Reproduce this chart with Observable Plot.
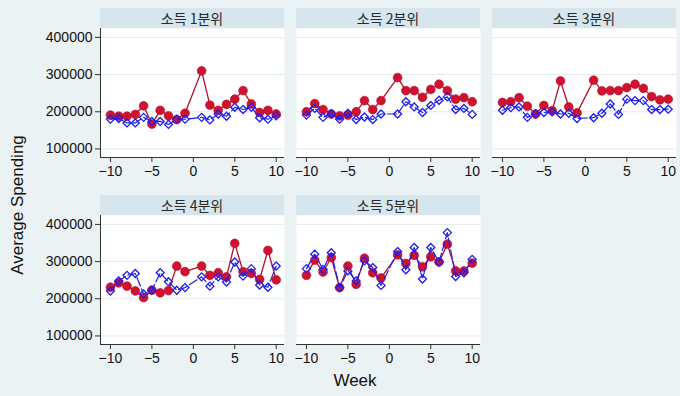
<!DOCTYPE html>
<html>
<head>
<meta charset="utf-8">
<script src="https://cdn.jsdelivr.net/npm/d3@7"></script>
<script src="https://cdn.jsdelivr.net/npm/@observablehq/plot@0.6"></script>
<style>
  html, body { margin: 0; padding: 0; background: #eaf2f4; }
  #chart { position: relative; width: 680px; height: 396px; background: #eaf2f4; overflow: hidden;
           font-family: "Liberation Sans", Arial, "Noto Sans CJK KR", sans-serif; }
  .hdr { position: absolute; height: 20px; background: #d7e6ec; color: #2a2a2a;
         font-family: "Noto Sans CJK KR", "Liberation Sans", sans-serif; font-size: 14px;
         line-height: 20px; text-align: center; }
  .plotbox { position: absolute; }
  .ylab { position: absolute; left: 18px; top: 205px; transform: translate(-50%, -50%) rotate(-90deg);
          font-size: 17px; color: #111; white-space: nowrap; }
  .xlab { position: absolute; left: 355px; top: 381px; transform: translate(-50%, -50%);
          font-size: 17px; color: #111; white-space: nowrap; }
</style>
</head>
<body>
<div id="chart"></div>
<script>
// ---- data ----
const weeks = [-10, -9, -8, -7, -6, -5, -4, -3, -2, -1, 1, 2, 3, 4, 5, 6, 7, 8, 9, 10];
const groups = ["소득 1분위", "소득 2분위", "소득 3분위", "소득 4분위", "소득 5분위"];
const xTicks = [-10, -5, 0, 5, 10];
const yTicks = [100000, 200000, 300000, 400000];

const red1  = [191000, 188000, 188000, 193000, 216000, 167000, 204000, 189000, 179000, 196000, 310000, 218000, 204000, 220000, 234000, 257000, 221000, 198000, 204000, 194000];
const blue1 = [180000, 182000, 170000, 170000, 185000, 174000, 174000, 166000, 180000, 180000, 185000, 178000, 194000, 188000, 212000, 206000, 212000, 184000, 180000, 189000];

const red2  = [200000, 222000, 206000, 194000, 189000, 191000, 200000, 230000, 206000, 230000, 292000, 257000, 257000, 239000, 260000, 274000, 257000, 234000, 238000, 227000];
const blue2 = [191000, 209000, 185000, 194000, 180000, 196000, 179000, 186000, 179000, 194000, 194000, 227000, 213000, 198000, 217000, 231000, 240000, 206000, 209000, 193000];

const red3  = [225000, 227000, 238000, 215000, 194000, 217000, 203000, 283000, 213000, 197000, 285000, 256000, 257000, 257000, 265000, 274000, 263000, 241000, 232000, 234000];
const blue3 = [204000, 211000, 213000, 185000, 194000, 198000, 200000, 194000, 196000, 182000, 184000, 196000, 221000, 193000, 234000, 230000, 230000, 206000, 206000, 207000];

const red4  = [231000, 243000, 234000, 221000, 203000, 223000, 216000, 222000, 288000, 273000, 288000, 263000, 270000, 259000, 349000, 273000, 268000, 252000, 330000, 251000];
const blue4 = [221000, 248000, 263000, 268000, 213000, 223000, 270000, 246000, 223000, 230000, 259000, 234000, 259000, 245000, 299000, 261000, 281000, 237000, 231000, 288000];

const red5  = [263000, 304000, 272000, 311000, 230000, 288000, 239000, 309000, 270000, 256000, 318000, 295000, 317000, 286000, 313000, 299000, 347000, 275000, 275000, 296000];
const blue5 = [281000, 320000, 279000, 324000, 230000, 275000, 248000, 302000, 284000, 236000, 327000, 278000, 338000, 253000, 338000, 299000, 378000, 260000, 270000, 306000];

const redSeries  = [red1, red2, red3, red4, red5];
const blueSeries = [blue1, blue2, blue3, blue4, blue5];

// ---- layout ----
const colLeft = [100, 296, 492];
const rowTop = [8, 195];
const panelW = 184, hdrH = 20, plotH = 129;
const mL = 62, mR = 4, mT = 2, mB = 28;
const xDomain = [-11.2, 11.0];
const yDomain = [77000, 424000];

const RED_FILL = "#d1112e", RED_LINE = "#b0102c", BLUE = "#1c1cf0";

const chart = document.getElementById("chart");

groups.forEach((g, k) => {
  const col = k % 3, row = Math.floor(k / 3);
  const left = colLeft[col], top = rowTop[row];
  const showY = col === 0;

  const hdr = document.createElement("div");
  hdr.className = "hdr";
  hdr.style.left = left + "px";
  hdr.style.top = top + "px";
  hdr.style.width = panelW + "px";
  hdr.textContent = g;
  chart.appendChild(hdr);

  const data = weeks.map((w, i) => ({ week: w, red: redSeries[k][i], blue: blueSeries[k][i] }));

  const marks = [
    Plot.frame({ fill: "white", stroke: null }),
    Plot.gridY(yTicks, { stroke: "#e3ebef", strokeOpacity: 1 }),
    Plot.ruleY([yDomain[0]], { stroke: "#333", strokeWidth: 1 }),
    Plot.axisX(xTicks, { tickSize: 5, tickPadding: 4, fontSize: 14, stroke: "#333", fill: "#111", label: null }),
    Plot.line(data, { x: "week", y: "red", stroke: RED_LINE, strokeWidth: 1.3 }),
    Plot.dot(data, { x: "week", y: "red", r: 4.4, fill: RED_FILL, stroke: "#b50c28", strokeWidth: 0.6 }),
    Plot.line(data, { x: "week", y: "blue", stroke: BLUE, strokeWidth: 1.2, strokeDasharray: "9,3" }),
    Plot.dot(data, { x: "week", y: "blue", symbol: "diamond2", r: 3.6, fill: "none", stroke: BLUE, strokeWidth: 1.3 })
  ];
  if (showY) {
    marks.push(Plot.ruleX([xDomain[0]], { stroke: "#333", strokeWidth: 1 }));
    marks.push(Plot.axisY(yTicks, { tickSize: 5, tickPadding: 3, fontSize: 14, stroke: "#333", fill: "#111",
      tickFormat: d3.format("d"), label: null }));
  } else {
    marks.push(Plot.axisY({ ticks: [], label: null }));
  }

  const svg = Plot.plot({
    width: mL + panelW + mR,
    height: mT + plotH + mB,
    marginLeft: mL, marginRight: mR, marginTop: mT, marginBottom: mB,
    x: { domain: xDomain },
    y: { domain: yDomain },
    style: { background: "transparent", overflow: "visible", fontFamily: "'Liberation Sans', Arial, sans-serif", fontSize: "14px", color: "#111" },
    marks
  });
  const box = document.createElement("div");
  box.className = "plotbox";
  box.style.left = (left - mL) + "px";
  box.style.top = (top + hdrH - mT) + "px";
  box.appendChild(svg);
  chart.appendChild(box);
});

const yl = document.createElement("div");
yl.className = "ylab";
yl.textContent = "Average Spending";
chart.appendChild(yl);

const xl = document.createElement("div");
xl.className = "xlab";
xl.textContent = "Week";
chart.appendChild(xl);
</script>
</body>
</html>
